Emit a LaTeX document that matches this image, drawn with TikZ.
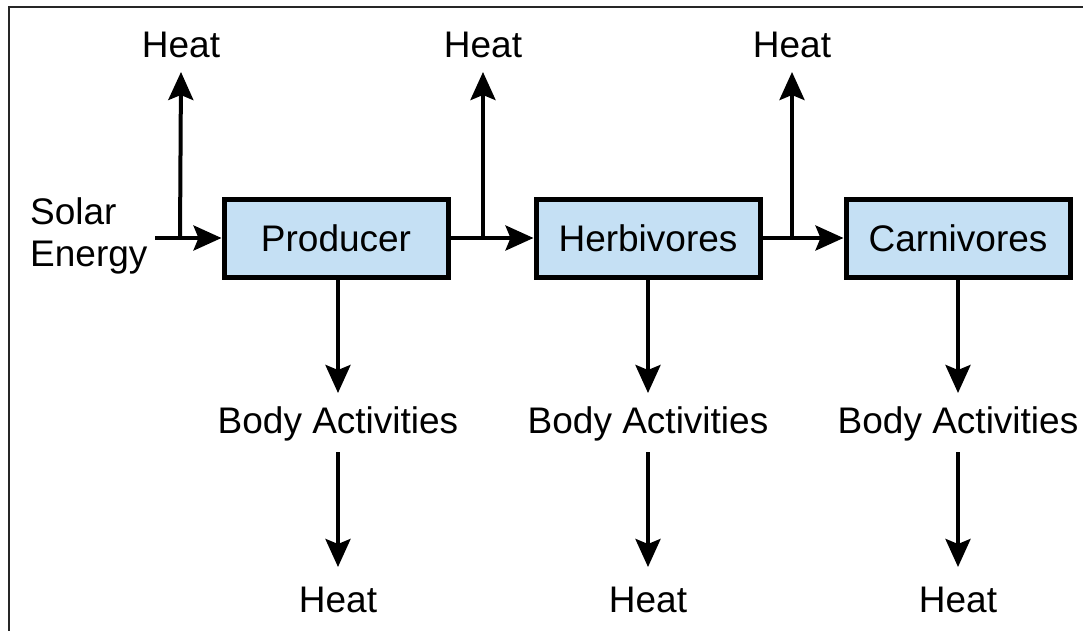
\documentclass[tikz,border=0pt]{standalone}
\usepackage{fontspec}
\setmainfont{Liberation Sans}
\usetikzlibrary{arrows.meta}
\definecolor{boxblue}{RGB}{197,224,244}
\begin{document}
\begin{tikzpicture}[x=1pt,y=-1pt,
  every node/.style={font=\fontsize{37}{42}\selectfont, inner sep=0pt},
  flowbox/.style={draw=black, line width=5pt, fill=boxblue, minimum width=224pt, minimum height=78pt},
  arr/.style={line width=4pt, -{Stealth[length=28pt,width=25pt,inset=5pt]}},
  ln/.style={line width=4pt}]
\useasboundingbox (0,0) rectangle (1083,631);
\draw[line width=2pt, black!85] (9,640) -- (9,7) -- (1090,7);
% boxes
\node[flowbox] (prod) at (336,238) {Producer};
\node[flowbox] (herb) at (648,238) {Herbivores};
\node[flowbox] (carn) at (958,238) {Carnivores};
% solar
\node[align=left, anchor=west] (solar) at (30,236) {Solar\\[0pt]Energy};
\coordinate (s0) at (155,238);
\coordinate (j1) at (180,238);
\coordinate (j2) at (483,238);
\coordinate (j3) at (792,238);
% top heat
\node (h1) at (181,45) {Heat};
\node (h2) at (483,45) {Heat};
\node (h3) at (792,45) {Heat};
% body activities
\node (b1) at (338,424) {Body Activities};
\node (b2) at (648,424) {Body Activities};
\node (b3) at (958,424) {Body Activities};
% bottom heat
\node (d1) at (338,600) {Heat};
\node (d2) at (648,600) {Heat};
\node (d3) at (958,600) {Heat};
% horizontal arrows
\draw[arr] (s0) -- (prod.west);
\draw[arr] (prod.east) -- (herb.west);
\draw[arr] (herb.east) -- (carn.west);
% up arrows
\draw[arr] (j1) -- (h1 |- 0,72);
\draw[arr] (j2) -- (h2 |- 0,72);
\draw[arr] (j3) -- (h3 |- 0,72);
% down arrows
\draw[arr] (prod.south -| b1) -- (b1 |- 0,393);
\draw[arr] (herb.south) -- (b2 |- 0,393);
\draw[arr] (carn.south) -- (b3 |- 0,393);
\draw[arr] (b1 |- 0,452) -- (d1 |- 0,567);
\draw[arr] (b2 |- 0,452) -- (d2 |- 0,567);
\draw[arr] (b3 |- 0,452) -- (d3 |- 0,567);
\end{tikzpicture}
\end{document}
